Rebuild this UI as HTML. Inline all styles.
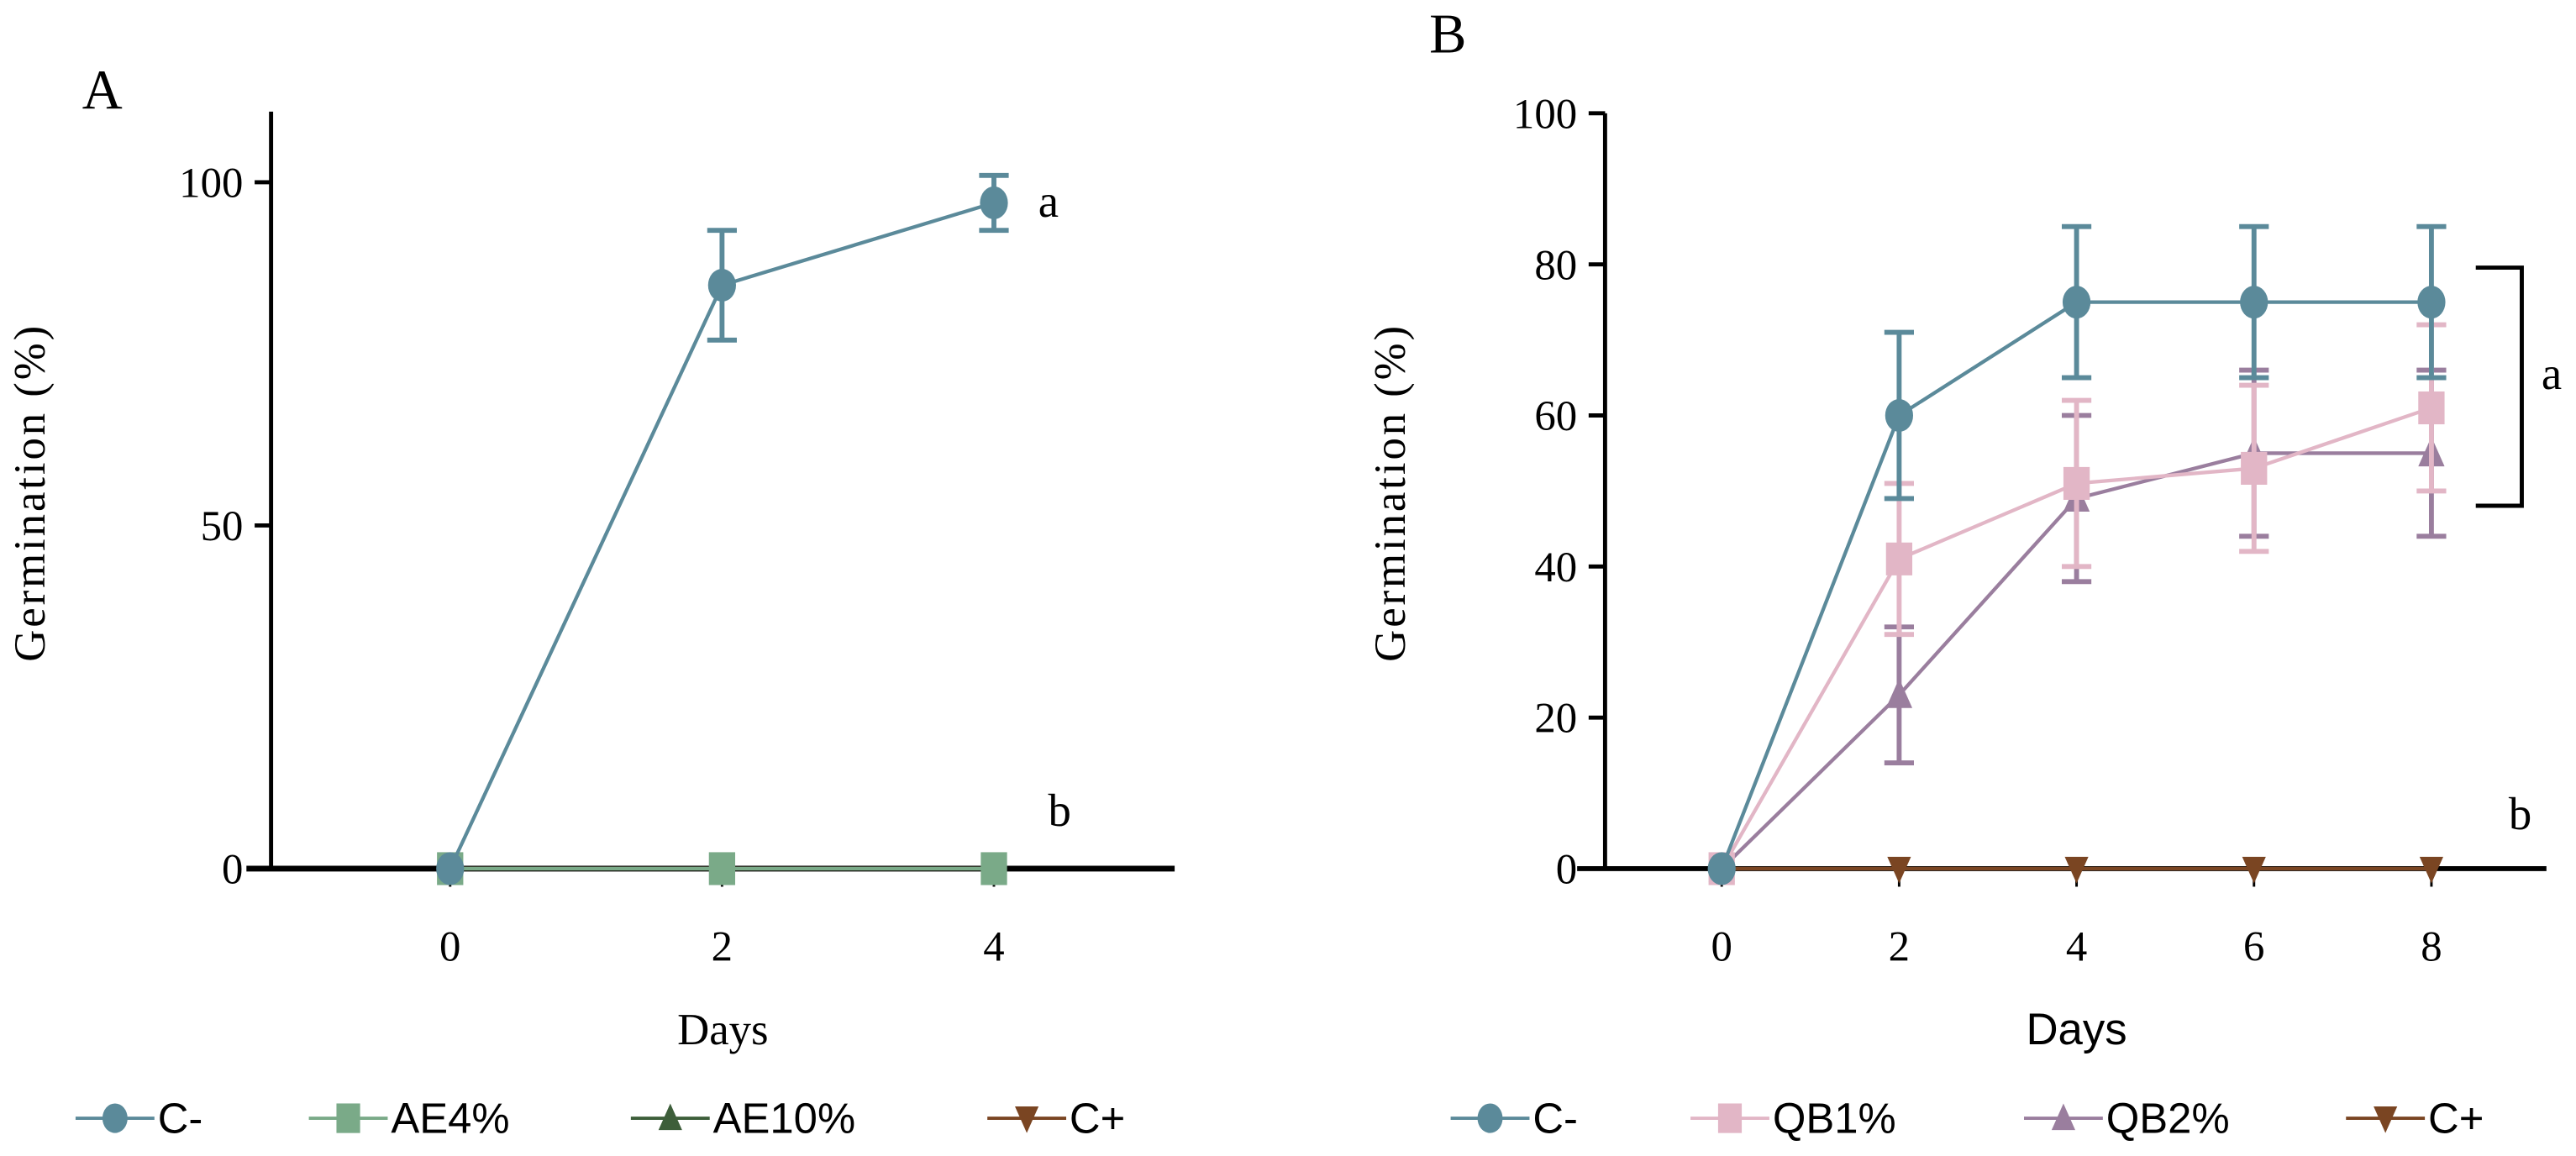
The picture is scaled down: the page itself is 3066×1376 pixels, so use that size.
<!DOCTYPE html>
<html><head><meta charset="utf-8"><style>
html,body{margin:0;padding:0;background:#fff;}
svg{display:block;}
text{font-family:"Liberation Serif",serif;fill:#000;}
.sans{font-family:"Liberation Sans",sans-serif;}
</style></head><body>
<svg id="fig" width="3066" height="1376" viewBox="0 0 1568 704" preserveAspectRatio="none" xmlns="http://www.w3.org/2000/svg">
<g id="pA"></g>
<g id="pB"></g>
</svg>
<script>
const daysA = [0, 2, 4];
const aCminus = [0, 85, 97];
const aCminusErr = [0, 8, 4];
const aAE4 = [0, 0, 0];
const aAE10 = [0, 0, 0];
const aCplus = [0, 0, 0];
const ticksA = [0, 50, 100];

const daysB = [0, 2, 4, 6, 8];
const bCminus = [0, 60, 75, 75, 75];
const bCminusErr = [0, 11, 10, 10, 10];
const bQB1 = [0, 41, 51, 53, 61];
const bQB1Err = [0, 10, 11, 11, 11];
const bQB2 = [0, 23, 49, 55, 55];
const bQB2Err = [0, 9, 11, 11, 11];
const bCplus = [0, 0, 0, 0, 0];
const ticksB = [0, 20, 40, 60, 80, 100];

const NS = "http://www.w3.org/2000/svg";
function mk(parent, tag, attrs, txt){
  const e = document.createElementNS(NS, tag);
  for (const k in attrs) e.setAttribute(k, attrs[k]);
  if (txt !== undefined) e.textContent = txt;
  parent.appendChild(e);
  return e;
}
const C = {cm:"#5b8a9a", ae4:"#7aaa88", ae10:"#3d5e3a", cp:"#7a4522", qb1:"#e2b6c6", qb2:"#9a7e9e"};

function marker(g, shape, x, y, col, r){
  let e;
  if (shape==="circle") e = mk(g,"ellipse",{cx:x,cy:y,rx:r*0.85,ry:r,fill:col});
  else if (shape==="square") e = mk(g,"rect",{x:x-r*0.8,y:y-r,width:r*1.6,height:r*2,fill:col});
  else if (shape==="tri") e = mk(g,"polygon",{points:`${x},${y-r} ${x-r*0.8},${y+r*0.8} ${x+r*0.8},${y+r*0.8}`,fill:col});
  else e = mk(g,"polygon",{points:`${x},${y+r} ${x-r*0.8},${y-r*0.8} ${x+r*0.8},${y-r*0.8}`,fill:col});
  
  
}

function series(g, name, xs, ys, errs, xf, yf, col, shape, r){
  const sg = mk(g,"g",{});
  
  
  if (errs) xs.forEach((d,i)=>{
    if (!errs[i]) return;
    const x=xf(d), y1=yf(ys[i]-errs[i]), y2=yf(ys[i]+errs[i]);
    const eb = mk(sg,"path",{d:`M${x},${y1}V${y2}M${x-9},${y1}h18M${x-9},${y2}h18`,stroke:col,"stroke-width":3,fill:"none"});
    
    
  });
  const pts = xs.map((d,i)=>xf(d)+","+yf(ys[i])).join(" ");
  const ln = mk(sg,"polyline",{points:pts,stroke:col,"stroke-width":2.2,fill:"none"});
  
  
  xs.forEach((d,i)=>marker(sg,shape,xf(d),yf(ys[i]),col,r));
}

function legend(g, items, y){
  items.forEach(it=>{
    const lg = mk(g,"g",{});
    
    
    mk(lg,"line",{x1:it.x-24,x2:it.x+24,y1:y,y2:y,stroke:it.col,"stroke-width":2});
    marker(lg,it.shape,it.x,y,it.col,9);
    mk(lg,"text",{x:it.x+26,y:y+9,"font-size":26,class:"sans"},it.label);
  });
}

/* Panel A */
(function(){
  const g = document.getElementById("pA");
  const xf = d => 274 + (605-274)*d/4;
  const yf = v => 529 - (529-111)*v/100;
  mk(g,"text",{x:50,y:66,"font-size":34},"A");
  const ax = mk(g,"path",{d:"M165,68V529",stroke:"#000","stroke-width":2.5,fill:"none"});
  
  
  const xa = mk(g,"path",{d:"M150,529H715",stroke:"#000","stroke-width":3.5,fill:"none"});
  
  
  ticksA.forEach(t=>{
    mk(g,"line",{x1:155,x2:165,y1:yf(t),y2:yf(t),stroke:"#000","stroke-width":2.5});
    mk(g,"text",{x:148,y:yf(t)+9,"font-size":26,"text-anchor":"end"},t);
  });
  daysA.forEach(d=>{
    mk(g,"line",{x1:xf(d),x2:xf(d),y1:529,y2:540,stroke:"#000","stroke-width":1.5});
    mk(g,"text",{x:xf(d),y:585,"font-size":26,"text-anchor":"middle"},d);
  });
  mk(g,"text",{x:440,y:636,"font-size":27,"text-anchor":"middle"},"Days");
  mk(g,"text",{x:27,y:300,"font-size":27,"text-anchor":"middle","letter-spacing":"1.5",transform:"rotate(-90 27 300)"},"Germination (%)");
  series(g,"series-ae10",daysA,aAE10,null,xf,yf,C.ae10,"tri",9);
  series(g,"series-cplus",daysA,aCplus,null,xf,yf,C.cp,"inv",9);
  series(g,"series-ae4",daysA,aAE4,null,xf,yf,C.ae4,"square",10);
  series(g,"series-cminus",daysA,aCminus,aCminusErr,xf,yf,C.cm,"circle",10);
  mk(g,"text",{x:632,y:132,"font-size":28},"a");
  mk(g,"text",{x:638,y:503,"font-size":28},"b");
  legend(g,[{x:70,col:C.cm,shape:"circle",label:"C-"},{x:212,col:C.ae4,shape:"square",label:"AE4%"},{x:408,col:C.ae10,shape:"tri",label:"AE10%"},{x:625,col:C.cp,shape:"inv",label:"C+"}],681);
})();

/* Panel B */
(function(){
  const g = document.getElementById("pB");
  const xf = d => 1048 + (1480-1048)*d/8;
  const yf = v => 529 - (529-69)*v/100;
  mk(g,"text",{x:870,y:32,"font-size":34},"B");
  const ax = mk(g,"path",{d:"M977,69V529",stroke:"#000","stroke-width":2.5,fill:"none"});
  
  
  const xa = mk(g,"path",{d:"M960,529H1550",stroke:"#000","stroke-width":3,fill:"none"});
  
  
  ticksB.forEach(t=>{
    mk(g,"line",{x1:967,x2:977,y1:yf(t),y2:yf(t),stroke:"#000","stroke-width":2.5});
    mk(g,"text",{x:960,y:yf(t)+9,"font-size":26,"text-anchor":"end"},t);
  });
  daysB.forEach(d=>{
    mk(g,"line",{x1:xf(d),x2:xf(d),y1:529,y2:540,stroke:"#000","stroke-width":1.5});
    mk(g,"text",{x:xf(d),y:585,"font-size":26,"text-anchor":"middle"},d);
  });
  mk(g,"text",{x:1264,y:636,"font-size":27,"text-anchor":"middle",class:"sans"},"Days");
  mk(g,"text",{x:855,y:300,"font-size":27,"text-anchor":"middle","letter-spacing":"1.5",transform:"rotate(-90 855 300)"},"Germination (%)");
  series(g,"series-cplus",daysB,bCplus,null,xf,yf,C.cp,"inv",9);
  series(g,"series-qb2",daysB,bQB2,bQB2Err,xf,yf,C.qb2,"tri",10);
  series(g,"series-qb1",daysB,bQB1,bQB1Err,xf,yf,C.qb1,"square",10);
  series(g,"series-cminus",daysB,bCminus,bCminusErr,xf,yf,C.cm,"circle",10);
  const br = mk(g,"path",{d:"M1507,163H1535V308H1507",stroke:"#000","stroke-width":2.5,fill:"none"});
  
  
  mk(g,"text",{x:1547,y:237,"font-size":28},"a");
  mk(g,"text",{x:1527,y:505,"font-size":28},"b");
  legend(g,[{x:907,col:C.cm,shape:"circle",label:"C-"},{x:1053,col:C.qb1,shape:"square",label:"QB1%"},{x:1256,col:C.qb2,shape:"tri",label:"QB2%"},{x:1452,col:C.cp,shape:"inv",label:"C+"}],681);
})();
</script>
</body></html>
